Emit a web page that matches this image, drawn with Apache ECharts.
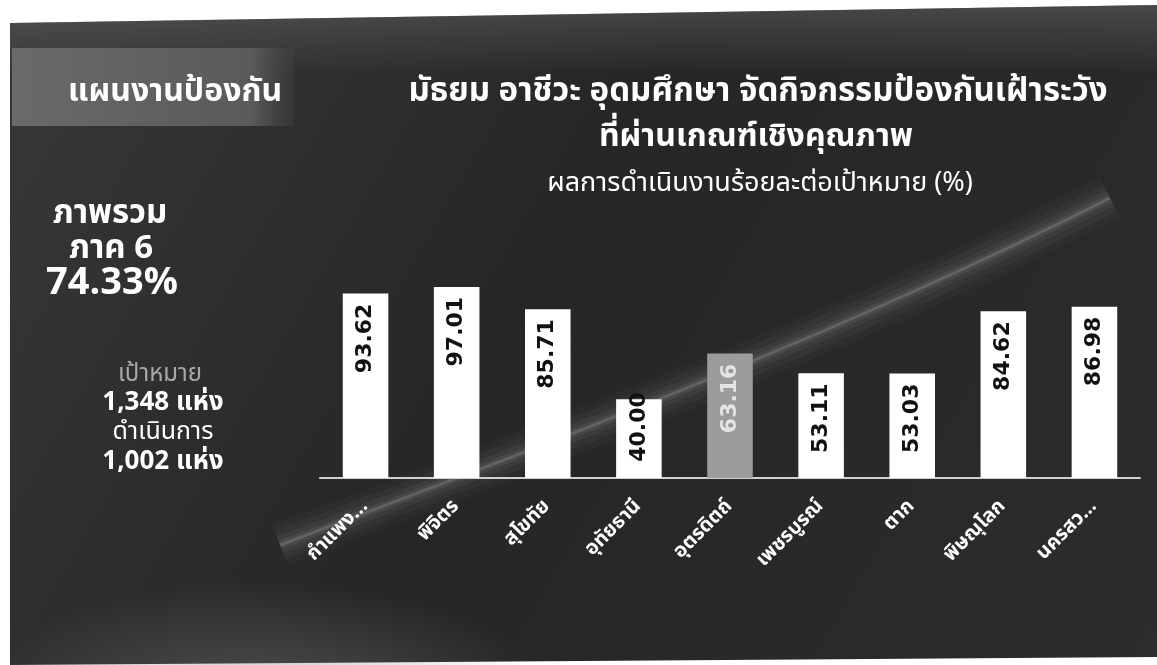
<!DOCTYPE html>
<html>
<head>
<meta charset="utf-8">
<script src="https://cdn.jsdelivr.net/npm/echarts@6/dist/echarts.min.js"></script>
<style>
  html, body { margin: 0; padding: 0; background: #fff; }
  #main { width: 1157px; height: 665px; }
</style>
</head>
<body>
<div id="main"></div>
<script>
let provinces = ['กำแพง...', 'พิจิตร', 'สุโขทัย', 'อุทัยธานี', 'อุตรดิตถ์', 'เพชรบูรณ์', 'ตาก', 'พิษณุโลก', 'นครสว...'];
let percentDone = [93.62, 97.01, 85.71, 40.00, 63.16, 53.11, 53.03, 84.62, 86.98];
let greyIndex = 4;

let titleLines = [
    'มัธยม อาชีวะ อุดมศึกษา จัดกิจกรรมป้องกันเฝ้าระวัง',
    'ที่ผ่านเกณฑ์เชิงคุณภาพ'
];
let subTitle = 'ผลการดำเนินงานร้อยละต่อเป้าหมาย (%)';
let planLabel = 'แผนงานป้องกัน';
let overviewLines = ['ภาพรวม', 'ภาค 6', '74.33%'];
let targetLabel = 'เป้าหมาย';
let targetValue = '1,348 แห่ง';
let doneLabel = 'ดำเนินการ';
let doneValue = '1,002 แห่ง';

let fontThai = 'Tahoma, "Noto Sans Thai", "DejaVu Sans", sans-serif';

let barData = percentDone.map(function (v, i) {
    let item = { value: v };
    if (i === greyIndex) {
        item.itemStyle = { color: '#9c9c9c' };
        item.label = { color: '#e4e4e4' };
    }
    if (v < 45) {
        // short bar: the label pokes out above the top a little
        item.label = { distance: -7 };
    }
    return item;
});

let chart = echarts.init(document.getElementById('main'));

function centerText(x, y, text, font, fill) {
    return {
        type: 'text', x: x, y: y,
        style: { text: text, fill: fill || '#ffffff', font: font, textAlign: 'center', textVerticalAlign: 'middle' }
    };
}

// soft glowing streak, drawn as a few stacked strokes
let streakShape = { x1: 280, y1: 545, x2: 1110, y2: 198, cpx1: 560, cpy1: 440, cpx2: 850, cpy2: 330 };
let streak = [[44, 0.035], [30, 0.05], [18, 0.06], [9, 0.09], [3, 0.2]].map(function (s) {
    return {
        type: 'bezierCurve', z: -8,
        shape: streakShape,
        style: { stroke: 'rgba(205,205,205,' + s[1] + ')', lineWidth: s[0], fill: null, lineCap: 'butt' }
    };
});

let option = {
    backgroundColor: '#ffffff',
    animation: false,
    graphic: [
        // slide body
        {
            type: 'polygon', z: -10,
            shape: { points: [[10, 23], [1157, 5], [1157, 657], [10, 665]] },
            style: {
                fill: {
                    type: 'linear', x: 0, y: 0, x2: 1, y2: 1,
                    colorStops: [
                        { offset: 0, color: '#383838' },
                        { offset: 0.45, color: '#262626' },
                        { offset: 1, color: '#2c2c2c' }
                    ]
                }
            }
        },
        // lighter band along top edge
        {
            type: 'polygon', z: -9,
            shape: { points: [[10, 23], [1157, 5], [1157, 70], [10, 75]] },
            style: {
                fill: {
                    type: 'linear', x: 0, y: 0, x2: 0, y2: 1,
                    colorStops: [
                        { offset: 0, color: 'rgba(110,110,110,0.45)' },
                        { offset: 1, color: 'rgba(110,110,110,0)' }
                    ]
                }
            }
        },
        // haze lower left
        {
            type: 'circle', z: -9, x: 260, y: 700, scaleX: 2.4, scaleY: 1,
            shape: { cx: 0, cy: 0, r: 120 },
            style: {
                fill: {
                    type: 'radial', x: 0.5, y: 0.5, r: 0.5,
                    colorStops: [
                        { offset: 0, color: 'rgba(130,130,130,0.45)' },
                        { offset: 1, color: 'rgba(130,130,130,0)' }
                    ]
                }
            }
        }
    ].concat(streak).concat([
        // left white margin
        {
            type: 'rect', z: -7,
            shape: { x: 0, y: 0, width: 10, height: 665 },
            style: { fill: '#ffffff' }
        },
        // plan box top left
        {
            type: 'rect', z: -5,
            shape: { x: 12, y: 48, width: 282, height: 78 },
            style: {
                fill: {
                    type: 'linear', x: 0, y: 0, x2: 1, y2: 0,
                    colorStops: [
                        { offset: 0, color: '#6a6a6a' },
                        { offset: 0.85, color: '#5a5a5a' },
                        { offset: 1, color: 'rgba(70,70,70,0.3)' }
                    ]
                }
            }
        },
        centerText(175, 95, planLabel, 'bold 32px ' + fontThai),
        // titles
        centerText(758, 94, titleLines[0], 'bold 33px ' + fontThai),
        centerText(756, 140, titleLines[1], 'bold 32px ' + fontThai),
        centerText(760, 186, subTitle, '27px ' + fontThai),
        // left summary
        centerText(110, 216, overviewLines[0], 'bold 33px ' + fontThai),
        centerText(111, 251, overviewLines[1], 'bold 33px ' + fontThai),
        centerText(112, 286, overviewLines[2], 'bold 38px ' + fontThai),
        centerText(160, 376, targetLabel, '24px ' + fontThai, '#a8a8a8'),
        centerText(163, 405, targetValue, 'bold 26px ' + fontThai),
        centerText(163, 434, doneLabel, '25px ' + fontThai),
        centerText(163, 464, doneValue, 'bold 26px ' + fontThai)
    ]),
    grid: {
        left: 320,
        right: 17,
        top: 281,
        bottom: 187
    },
    xAxis: {
        type: 'category',
        data: provinces,
        axisLine: { lineStyle: { color: '#d0d0d0', width: 2 } },
        axisTick: { show: false },
        axisLabel: {
            rotate: 45,
            margin: 26,
            color: '#ffffff',
            fontSize: 20,
            fontWeight: 'bold',
            fontFamily: fontThai,
            interval: 0
        }
    },
    yAxis: {
        type: 'value',
        min: 0,
        max: 100,
        show: false
    },
    series: [
        {
            name: 'ร้อยละ',
            type: 'bar',
            barWidth: '50%',
            data: barData,
            itemStyle: { color: '#ffffff' },
            label: {
                show: true,
                position: 'insideTop',
                rotate: 90,
                align: 'right',
                verticalAlign: 'middle',
                distance: 10,
                color: '#111111',
                fontSize: 22,
                fontWeight: 'bold',
                fontFamily: 'Verdana, "DejaVu Sans", sans-serif',
                formatter: function (p) { return p.value.toFixed(2); }
            }
        }
    ]
};

chart.setOption(option);
</script>
</body>
</html>
